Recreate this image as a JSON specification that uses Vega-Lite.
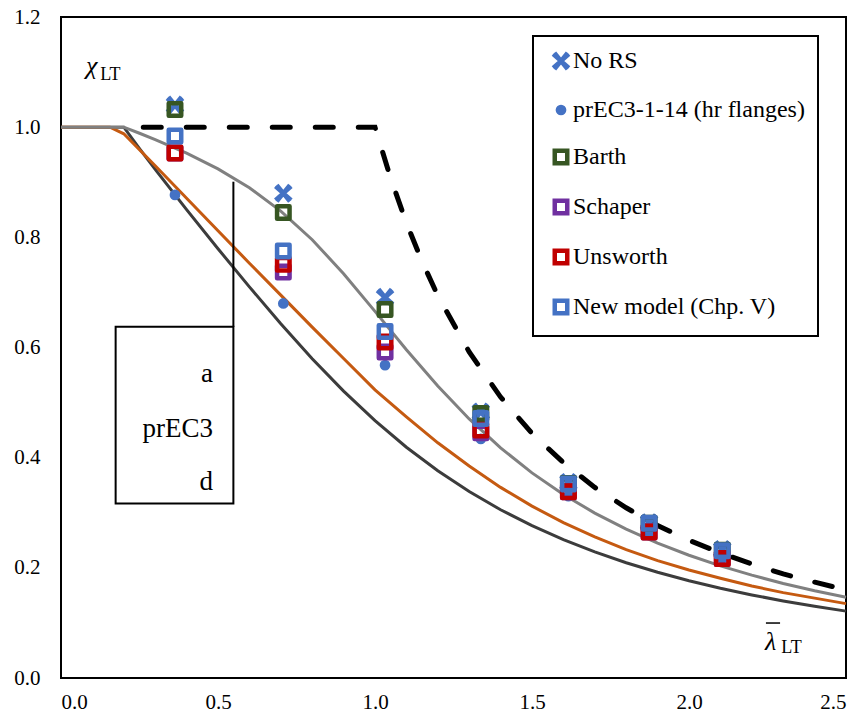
{
 "$schema": "https://vega.github.io/schema/vega-lite/v6.json",
 "width": 785,
 "height": 661,
 "autosize": {"type": "none"},
 "padding": {"left": 61, "top": 17, "right": 15, "bottom": 42},
 "background": "white",
 "config": {
  "view": {"stroke": "black", "strokeWidth": 2},
  "font": "Liberation Serif",
  "axis": {"grid": false, "ticks": false, "domain": false, "labelFont": "Liberation Serif", "labelFontSize": 21, "labelColor": "black", "title": null},
  "legend": {"strokeColor": "black", "strokeWidth": 2, "fillColor": "white", "labelFont": "Liberation Serif"}
 },
 "datasets": {
  "curves": [
   {"curve": "d", "x": 0, "y": 1}, {"curve": "d", "x": 0.2, "y": 1}, {"curve": "d", "x": 0.25, "y": 0.961}, {"curve": "d", "x": 0.3, "y": 0.9234}, {"curve": "d", "x": 0.4, "y": 0.8504}, {"curve": "d", "x": 0.5, "y": 0.7793}, {"curve": "d", "x": 0.6, "y": 0.71}, {"curve": "d", "x": 0.7, "y": 0.6431}, {"curve": "d", "x": 0.8, "y": 0.5797}, {"curve": "d", "x": 0.9, "y": 0.5208}, {"curve": "d", "x": 1.0, "y": 0.4671}, {"curve": "d", "x": 1.1, "y": 0.4189}, {"curve": "d", "x": 1.2, "y": 0.3762}, {"curve": "d", "x": 1.3, "y": 0.3385}, {"curve": "d", "x": 1.4, "y": 0.3055}, {"curve": "d", "x": 1.5, "y": 0.2766}, {"curve": "d", "x": 1.6, "y": 0.2512}, {"curve": "d", "x": 1.7, "y": 0.2289}, {"curve": "d", "x": 1.8, "y": 0.2093}, {"curve": "d", "x": 1.9, "y": 0.192}, {"curve": "d", "x": 2.0, "y": 0.1766}, {"curve": "d", "x": 2.1, "y": 0.163}, {"curve": "d", "x": 2.2, "y": 0.1508}, {"curve": "d", "x": 2.3, "y": 0.1399}, {"curve": "d", "x": 2.4, "y": 0.1302}, {"curve": "d", "x": 2.5, "y": 0.1214},
   {"curve": "prEC3", "x": 0, "y": 1}, {"curve": "prEC3", "x": 0.156, "y": 1}, {"curve": "prEC3", "x": 0.2, "y": 0.988}, {"curve": "prEC3", "x": 0.3, "y": 0.93}, {"curve": "prEC3", "x": 0.4, "y": 0.871}, {"curve": "prEC3", "x": 0.5, "y": 0.812}, {"curve": "prEC3", "x": 0.6, "y": 0.753}, {"curve": "prEC3", "x": 0.7, "y": 0.695}, {"curve": "prEC3", "x": 0.8, "y": 0.637}, {"curve": "prEC3", "x": 0.9, "y": 0.58}, {"curve": "prEC3", "x": 1.0, "y": 0.523}, {"curve": "prEC3", "x": 1.1, "y": 0.474}, {"curve": "prEC3", "x": 1.2, "y": 0.427}, {"curve": "prEC3", "x": 1.3, "y": 0.385}, {"curve": "prEC3", "x": 1.4, "y": 0.346}, {"curve": "prEC3", "x": 1.5, "y": 0.312}, {"curve": "prEC3", "x": 1.6, "y": 0.282}, {"curve": "prEC3", "x": 1.7, "y": 0.256}, {"curve": "prEC3", "x": 1.8, "y": 0.233}, {"curve": "prEC3", "x": 1.9, "y": 0.213}, {"curve": "prEC3", "x": 2.0, "y": 0.196}, {"curve": "prEC3", "x": 2.1, "y": 0.181}, {"curve": "prEC3", "x": 2.2, "y": 0.167}, {"curve": "prEC3", "x": 2.3, "y": 0.155}, {"curve": "prEC3", "x": 2.4, "y": 0.145}, {"curve": "prEC3", "x": 2.5, "y": 0.135},
   {"curve": "a", "x": 0, "y": 1}, {"curve": "a", "x": 0.2, "y": 1}, {"curve": "a", "x": 0.25, "y": 0.989}, {"curve": "a", "x": 0.3, "y": 0.9775}, {"curve": "a", "x": 0.4, "y": 0.9528}, {"curve": "a", "x": 0.5, "y": 0.9243}, {"curve": "a", "x": 0.6, "y": 0.89}, {"curve": "a", "x": 0.7, "y": 0.8477}, {"curve": "a", "x": 0.8, "y": 0.7957}, {"curve": "a", "x": 0.9, "y": 0.734}, {"curve": "a", "x": 1.0, "y": 0.6656}, {"curve": "a", "x": 1.1, "y": 0.596}, {"curve": "a", "x": 1.2, "y": 0.53}, {"curve": "a", "x": 1.3, "y": 0.4703}, {"curve": "a", "x": 1.4, "y": 0.4179}, {"curve": "a", "x": 1.5, "y": 0.3724}, {"curve": "a", "x": 1.6, "y": 0.3332}, {"curve": "a", "x": 1.7, "y": 0.2994}, {"curve": "a", "x": 1.8, "y": 0.2702}, {"curve": "a", "x": 1.9, "y": 0.2449}, {"curve": "a", "x": 2.0, "y": 0.2229}, {"curve": "a", "x": 2.1, "y": 0.2036}, {"curve": "a", "x": 2.2, "y": 0.1867}, {"curve": "a", "x": 2.3, "y": 0.1717}, {"curve": "a", "x": 2.4, "y": 0.1585}, {"curve": "a", "x": 2.5, "y": 0.1467},
   {"curve": "Mcr", "x": 0.262, "y": 1}, {"curve": "Mcr", "x": 1.0, "y": 1}, {"curve": "Mcr", "x": 1.05, "y": 0.907}, {"curve": "Mcr", "x": 1.1, "y": 0.826}, {"curve": "Mcr", "x": 1.15, "y": 0.756}, {"curve": "Mcr", "x": 1.2, "y": 0.694}, {"curve": "Mcr", "x": 1.3, "y": 0.592}, {"curve": "Mcr", "x": 1.4, "y": 0.51}, {"curve": "Mcr", "x": 1.5, "y": 0.444}, {"curve": "Mcr", "x": 1.6, "y": 0.391}, {"curve": "Mcr", "x": 1.7, "y": 0.346}, {"curve": "Mcr", "x": 1.8, "y": 0.309}, {"curve": "Mcr", "x": 1.9, "y": 0.277}, {"curve": "Mcr", "x": 2.0, "y": 0.25}, {"curve": "Mcr", "x": 2.1, "y": 0.227}, {"curve": "Mcr", "x": 2.2, "y": 0.207}, {"curve": "Mcr", "x": 2.3, "y": 0.189}, {"curve": "Mcr", "x": 2.4, "y": 0.174}, {"curve": "Mcr", "x": 2.5, "y": 0.16}
  ],
  "points": [
   {"series": "No RS", "x": 0.363, "y": 1.04}, {"series": "No RS", "x": 0.708, "y": 0.88}, {"series": "No RS", "x": 1.032, "y": 0.691}, {"series": "No RS", "x": 1.337, "y": 0.483}, {"series": "No RS", "x": 1.616, "y": 0.355}, {"series": "No RS", "x": 1.873, "y": 0.282}, {"series": "No RS", "x": 2.106, "y": 0.233},
   {"series": "prEC3-1-14 (hr flanges)", "x": 0.363, "y": 0.877}, {"series": "prEC3-1-14 (hr flanges)", "x": 0.708, "y": 0.68}, {"series": "prEC3-1-14 (hr flanges)", "x": 1.032, "y": 0.568}, {"series": "prEC3-1-14 (hr flanges)", "x": 1.337, "y": 0.434}, {"series": "prEC3-1-14 (hr flanges)", "x": 1.616, "y": 0.33}, {"series": "prEC3-1-14 (hr flanges)", "x": 1.873, "y": 0.262}, {"series": "prEC3-1-14 (hr flanges)", "x": 2.106, "y": 0.217},
   {"series": "Barth", "x": 0.363, "y": 1.032}, {"series": "Barth", "x": 0.708, "y": 0.845}, {"series": "Barth", "x": 1.032, "y": 0.669}, {"series": "Barth", "x": 1.337, "y": 0.48}, {"series": "Barth", "x": 1.616, "y": 0.353}, {"series": "Barth", "x": 1.873, "y": 0.281}, {"series": "Barth", "x": 2.106, "y": 0.232},
   {"series": "Schaper", "x": 0.363, "y": 0.953}, {"series": "Schaper", "x": 0.708, "y": 0.737}, {"series": "Schaper", "x": 1.032, "y": 0.592}, {"series": "Schaper", "x": 1.337, "y": 0.445}, {"series": "Schaper", "x": 1.616, "y": 0.338}, {"series": "Schaper", "x": 1.873, "y": 0.265}, {"series": "Schaper", "x": 2.106, "y": 0.217},
   {"series": "Unsworth", "x": 0.363, "y": 0.953}, {"series": "Unsworth", "x": 0.708, "y": 0.751}, {"series": "Unsworth", "x": 1.032, "y": 0.61}, {"series": "Unsworth", "x": 1.337, "y": 0.45}, {"series": "Unsworth", "x": 1.616, "y": 0.338}, {"series": "Unsworth", "x": 1.873, "y": 0.265}, {"series": "Unsworth", "x": 2.106, "y": 0.217},
   {"series": "New model (Chp. V)", "x": 0.363, "y": 0.984}, {"series": "New model (Chp. V)", "x": 0.708, "y": 0.775}, {"series": "New model (Chp. V)", "x": 1.032, "y": 0.629}, {"series": "New model (Chp. V)", "x": 1.337, "y": 0.471}, {"series": "New model (Chp. V)", "x": 1.616, "y": 0.352}, {"series": "New model (Chp. V)", "x": 1.873, "y": 0.281}, {"series": "New model (Chp. V)", "x": 2.106, "y": 0.231}
  ]
 },
 "layer": [
  {
   "data": {"name": "curves"},
   "transform": [{"filter": "datum.curve == 'd'"}],
   "mark": {"type": "line", "color": "#3c3c3c", "strokeWidth": 3},
   "encoding": {
    "x": {"field": "x", "type": "quantitative", "scale": {"domain": [0, 2.5], "nice": false, "zero": false}, "axis": {"values": [0, 0.5, 1, 1.5, 2, 2.5], "format": ".1f", "labelPadding": 13}},
    "y": {"field": "y", "type": "quantitative", "scale": {"domain": [0, 1.2], "nice": false}, "axis": {"values": [0, 0.2, 0.4, 0.6, 0.8, 1.0, 1.2], "format": ".1f", "labelPadding": 21}}
   }
  },
  {
   "data": {"name": "curves"},
   "transform": [{"filter": "datum.curve == 'prEC3'"}],
   "mark": {"type": "line", "color": "#C55A11", "strokeWidth": 3},
   "encoding": {"x": {"field": "x", "type": "quantitative"}, "y": {"field": "y", "type": "quantitative"}}
  },
  {
   "data": {"name": "curves"},
   "transform": [{"filter": "datum.curve == 'a'"}],
   "mark": {"type": "line", "color": "#808080", "strokeWidth": 3},
   "encoding": {"x": {"field": "x", "type": "quantitative"}, "y": {"field": "y", "type": "quantitative"}}
  },
  {
   "data": {"name": "curves"},
   "transform": [{"filter": "datum.curve == 'Mcr'"}],
   "mark": {"type": "line", "color": "black", "strokeWidth": 5, "strokeDash": [18, 25], "strokeCap": "round"},
   "encoding": {"x": {"field": "x", "type": "quantitative"}, "y": {"field": "y", "type": "quantitative"}}
  },
  {
   "data": {"values": [{"x": 0.174, "x2": 0.549, "y": 0.317, "y2": 0.6375}]},
   "mark": {"type": "rect", "fill": "white", "stroke": "black", "strokeWidth": 2},
   "encoding": {"x": {"field": "x", "type": "quantitative"}, "x2": {"field": "x2"}, "y": {"field": "y", "type": "quantitative"}, "y2": {"field": "y2"}}
  },
  {
   "data": {"values": [{"x": 0.549, "y": 0.6375, "y2": 0.901}]},
   "mark": {"type": "rule", "color": "black", "strokeWidth": 2},
   "encoding": {"x": {"field": "x", "type": "quantitative"}, "y": {"field": "y", "type": "quantitative"}, "y2": {"field": "y2"}}
  },
  {
   "data": {"values": [{"x": 0.484, "y": 0.537, "t": "a"}, {"x": 0.484, "y": 0.437, "t": "prEC3"}, {"x": 0.484, "y": 0.341, "t": "d"}]},
   "mark": {"type": "text", "align": "right", "baseline": "alphabetic", "font": "Liberation Serif", "fontSize": 27, "color": "black"},
   "encoding": {"x": {"field": "x", "type": "quantitative"}, "y": {"field": "y", "type": "quantitative"}, "text": {"field": "t"}}
  },
  {
   "data": {"values": [{"x": 0.08, "y": 1.096, "t": "χ"}, {"x": 2.242, "y": 0.0508, "t": "λ"}]},
   "mark": {"type": "text", "align": "left", "baseline": "alphabetic", "font": "Liberation Serif", "fontStyle": "italic", "fontSize": 26, "color": "black"},
   "encoding": {"x": {"field": "x", "type": "quantitative"}, "y": {"field": "y", "type": "quantitative"}, "text": {"field": "t"}}
  },
  {
   "data": {"values": [{"x": 0.125, "y": 1.0853, "t": "LT"}, {"x": 2.294, "y": 0.0454, "t": "LT"}]},
   "mark": {"type": "text", "align": "left", "baseline": "alphabetic", "font": "Liberation Serif", "fontSize": 18, "color": "black"},
   "encoding": {"x": {"field": "x", "type": "quantitative"}, "y": {"field": "y", "type": "quantitative"}, "text": {"field": "t"}}
  },
  {
   "data": {"values": [{"x": 2.245, "x2": 2.29, "y": 0.0998}]},
   "mark": {"type": "rule", "color": "black", "strokeWidth": 1.5},
   "encoding": {"x": {"field": "x", "type": "quantitative"}, "x2": {"field": "x2"}, "y": {"field": "y", "type": "quantitative"}}
  },
  {
   "data": {"name": "points"},
   "mark": {"type": "point", "filled": false, "size": 156, "opacity": 1, "strokeWidth": 4.5, "strokeJoin": "round"},
   "encoding": {
    "x": {"field": "x", "type": "quantitative"},
    "y": {"field": "y", "type": "quantitative"},
    "color": {"field": "series", "type": "nominal",
     "scale": {"domain": ["No RS", "prEC3-1-14 (hr flanges)", "Barth", "Schaper", "Unsworth", "New model (Chp. V)"], "range": ["#4472C4", "#4472C4", "#375623", "#7030A0", "#C00000", "#4472C4"]},
     "legend": {"orient": "none", "legendX": 472, "legendY": 19, "title": null, "padding": 13, "rowPadding": 18, "labelFont": "Liberation Serif", "labelFontSize": 24, "labelColor": "black", "labelOffset": 0, "symbolOffset": 3, "symbolSize": 156, "symbolStrokeWidth": 4.5, "symbolOpacity": 1, "labelLimit": 400}},
    "shape": {"field": "series", "type": "nominal",
     "scale": {"domain": ["No RS", "prEC3-1-14 (hr flanges)", "Barth", "Schaper", "Unsworth", "New model (Chp. V)"], "range": ["M -1.25 -1.1 L 1.25 1.1 M -1.25 1.1 L 1.25 -1.1 M -1.05 -1.3 L 1.05 1.3 M -1.05 1.3 L 1.05 -1.3", "M -0.5 0 A 0.5 0.5 0 1 0 0.5 0 A 0.5 0.5 0 1 0 -0.5 0 Z M -0.35 0 L 0.35 0 M 0 -0.35 L 0 0.35 M -0.25 -0.25 L 0.25 0.25 M -0.25 0.25 L 0.25 -0.25", "square", "square", "square", "square"]},
     "legend": {"orient": "none", "legendX": 472, "legendY": 19, "title": null, "padding": 13, "rowPadding": 18, "labelFont": "Liberation Serif", "labelFontSize": 24, "labelColor": "black", "labelOffset": 0, "symbolOffset": 3, "symbolSize": 156, "symbolStrokeWidth": 4.5, "symbolOpacity": 1, "labelLimit": 400}}
   }
  }
 ]
}
